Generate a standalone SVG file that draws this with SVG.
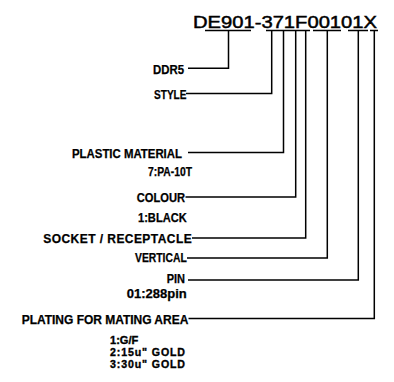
<svg xmlns="http://www.w3.org/2000/svg" width="394" height="382" viewBox="0 0 394 382">
<style>
  .lbl { font-family: "Liberation Sans", Arial, sans-serif; font-weight: bold; font-size: 12px; fill: #000; stroke: #000; stroke-width: 0.25; }
  .opt { font-size: 10.6px; stroke-width: 0.35; }
  .title { font-family: "Liberation Sans", Arial, sans-serif; font-size: 16px; fill: #000; stroke: #000; stroke-width: 0.45; }
  .ln { fill: none; stroke: #000; stroke-width: 1.5; }
</style>
<rect width="394" height="382" fill="#fff"/>
<g id="title">
  <text class="title" x="193" y="28" textLength="184" lengthAdjust="spacingAndGlyphs">DE901-371F00101X</text>
</g>
<g id="connectors">
  <path class="ln" d="M205,30.5 H251 M266,30.5 H310 M313,30.5 H341 M348,30.5 H368 M370,30.5 H378"/>
  <path class="ln" d="M188,68.3 H228.5 V30.5"/>
  <path class="ln" d="M186,93.5 H271.7 V30.5"/>
  <path class="ln" d="M188,152.5 H283.5 V30.5"/>
  <path class="ln" d="M185.5,197 H295.7 V30.5"/>
  <path class="ln" d="M192,238 H305.7 V30.5"/>
  <path class="ln" d="M187,258 H327.3 V30.5"/>
  <path class="ln" d="M188,280 H358.3 V30.5"/>
  <path class="ln" d="M188.5,318.5 H374.3 V30.5"/>
</g>
<g id="ddr5"><text class="lbl" x="153" y="74" textLength="31" lengthAdjust="spacingAndGlyphs">DDR5</text></g>
<g id="style"><text class="lbl" x="154" y="99" textLength="32.5" lengthAdjust="spacingAndGlyphs">STYLE</text></g>
<g id="plastic-material">
  <text class="lbl" x="72" y="157.5" textLength="110" lengthAdjust="spacingAndGlyphs">PLASTIC MATERIAL</text>
  <text class="lbl" x="148" y="176" textLength="44" lengthAdjust="spacingAndGlyphs">7:PA-10T</text>
</g>
<g id="colour">
  <text class="lbl" x="136.7" y="201.7" textLength="48.3" lengthAdjust="spacingAndGlyphs">COLOUR</text>
  <text class="lbl" x="138" y="221.7" textLength="48.7" lengthAdjust="spacingAndGlyphs">1:BLACK</text>
</g>
<g id="socket"><text class="lbl" x="43.3" y="242.7" textLength="148.4" lengthAdjust="spacing">SOCKET / RECEPTACLE</text></g>
<g id="vertical"><text class="lbl" x="135" y="261.7" textLength="51.7" lengthAdjust="spacingAndGlyphs">VERTICAL</text></g>
<g id="pin">
  <text class="lbl" x="166.7" y="283.3" textLength="18.3" lengthAdjust="spacingAndGlyphs">PIN</text>
  <text class="lbl" x="126.7" y="297.5" textLength="60" lengthAdjust="spacingAndGlyphs">01:288pin</text>
</g>
<g id="plating">
  <text class="lbl" x="21.7" y="324.3" textLength="166.6" lengthAdjust="spacing">PLATING FOR MATING AREA</text>
  <text class="lbl opt" x="110" y="344" textLength="28.3" lengthAdjust="spacingAndGlyphs">1:G/F</text>
  <text class="lbl opt" x="110" y="356" textLength="75" lengthAdjust="spacing">2:15u" GOLD</text>
  <text class="lbl opt" x="110" y="368.3" textLength="75" lengthAdjust="spacing">3:30u" GOLD</text>
</g>
</svg>
